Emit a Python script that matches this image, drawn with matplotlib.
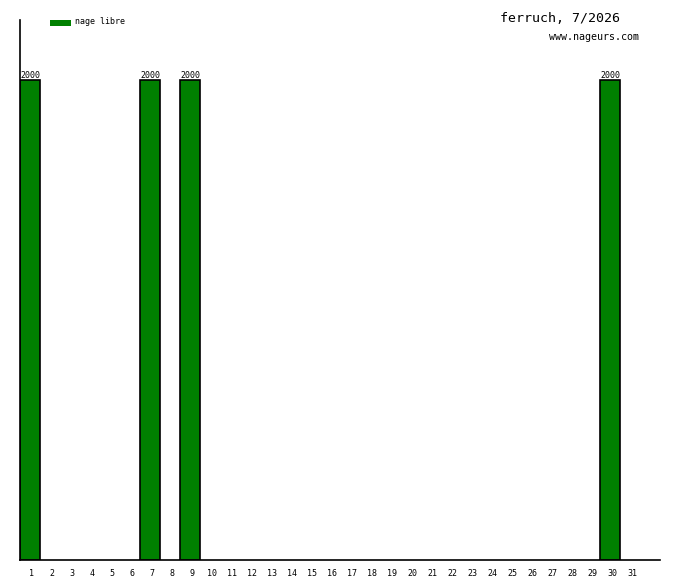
import matplotlib
matplotlib.use("Agg")
import matplotlib.pyplot as plt
from matplotlib.patches import Rectangle

days = list(range(1, 32))
bar_days = [1, 7, 9, 30]
bar_values = [2000, 2000, 2000, 2000]
series_name = "nage libre"
title = "ferruch, 7/2026"
site = "www.nageurs.com"
green = "#008000"

W, H = 680, 580
fig = plt.figure(figsize=(W / 100, H / 100), dpi=100)
ax = fig.add_axes([20 / W, 20 / H, 640 / W, 540 / H])
ax.bar(bar_days, bar_values, width=1.0, color=green, edgecolor="black", linewidth=1.2)
for d, v in zip(bar_days, bar_values):
    ax.text(d, v + 2, str(v), ha="center", va="bottom", fontsize=6,
            family="DejaVu Sans Mono")
ax.set_xlim(0.5, 32.5)
ax.set_ylim(0, 2250)
for s in ["top", "right"]:
    ax.spines[s].set_visible(False)
ax.spines["left"].set_linewidth(1.2)
ax.spines["bottom"].set_linewidth(1.2)
ax.set_yticks([])
ax.set_xticks([d + 0.1 for d in days])
ax.set_xticklabels([str(d) for d in days], fontsize=6, family="DejaVu Sans Mono")
ax.tick_params(axis="x", length=0, pad=6.5)

# legend
fig.patches.append(Rectangle((50 / W, 1 - 26 / H), 21 / W, 6 / H, transform=fig.transFigure,
                             facecolor=green, edgecolor="none"))
fig.text(75 / W, 1 - 22 / H, series_name, fontsize=6, family="DejaVu Sans Mono",
         va="center", ha="left")
fig.text(620 / W, 1 - 18 / H, title, fontsize=9.5, family="DejaVu Sans Mono",
         va="center", ha="right")
fig.text(639 / W, 1 - 37 / H, site, fontsize=7.2, family="DejaVu Sans Mono",
         va="center", ha="right")

fig.savefig("out.png", dpi=100)
